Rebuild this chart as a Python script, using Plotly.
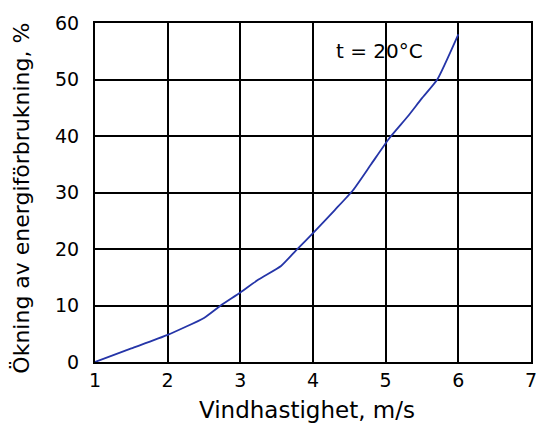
import plotly.graph_objects as go

# Wind speed (m/s) and increase in energy use (%) at t = 20 °C
vindhastighet = [1.0, 1.5, 2.0, 2.5, 2.73, 3.0, 3.25, 3.56, 3.77, 4.0, 4.3, 4.55, 4.8, 5.05, 5.3, 5.5, 5.71, 6.0]
okning = [0.0, 2.4, 4.8, 7.8, 10.0, 12.3, 14.6, 17.0, 19.8, 22.8, 26.9, 30.4, 35.0, 39.6, 43.4, 46.7, 50.0, 58.0]

x_ticks = [1, 2, 3, 4, 5, 6, 7]
y_ticks = [0, 10, 20, 30, 40, 50, 60]

FONT = "DejaVu Sans"

fig = go.Figure()
fig.add_trace(go.Scatter(
    x=vindhastighet, y=okning, mode="lines",
    line=dict(color="#2535a8", width=1.8, shape="spline", smoothing=0.5),
    showlegend=False, hoverinfo="skip",
))

axis_common = dict(
    showgrid=True, gridcolor="black", gridwidth=2,
    showline=True, linecolor="black", linewidth=2, mirror=True,
    zeroline=False, ticks="", ticklabeloverflow="allow", automargin=False,
    tickfont=dict(family=FONT, size=19, color="black"),
)

fig.update_xaxes(range=[1, 7], tickvals=x_ticks, **axis_common)
fig.update_yaxes(range=[0, 60], tickvals=y_ticks, ticklabelstandoff=10, **axis_common)

# Axis titles
fig.add_annotation(
    xref="paper", yref="paper", x=0.486, y=-0.1416, xanchor="center", yanchor="middle",
    text="Vindhastighet, m/s", showarrow=False,
    font=dict(family=FONT, size=23, color="black"),
)
fig.add_annotation(
    xref="paper", yref="paper", x=-0.168, y=0.484, xanchor="center", yanchor="middle",
    text="Ökning av energiförbrukning, %", showarrow=False, textangle=-90,
    font=dict(family=FONT, size=22, color="black"),
)

fig.add_annotation(
    x=4.92, y=55, text="t = 20°C", showarrow=False,
    font=dict(family=FONT, size=20, color="black"),
)

fig.update_layout(
    width=538, height=423,
    margin=dict(l=95, r=7, t=23, b=61),
    paper_bgcolor="white", plot_bgcolor="white",
)

fig.write_html("out.html")
